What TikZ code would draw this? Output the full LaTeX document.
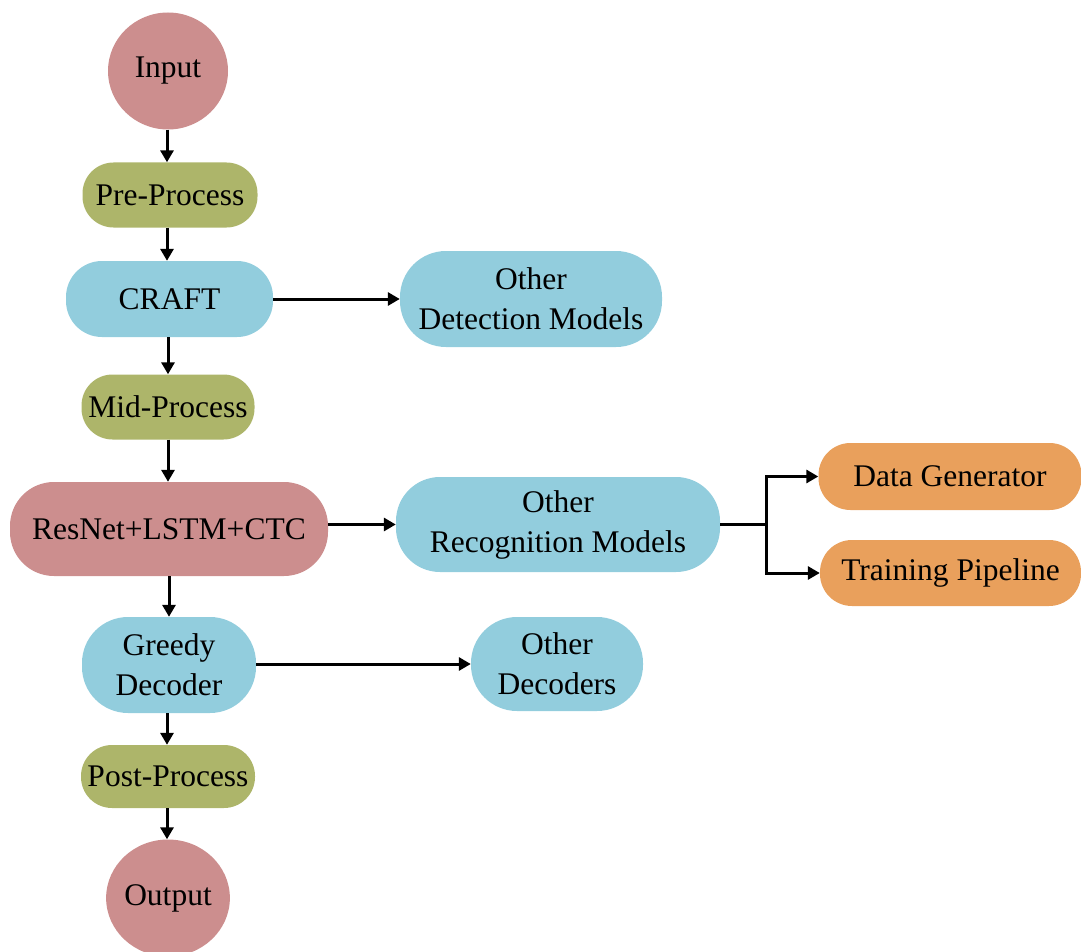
\documentclass[tikz,border=0pt]{standalone}
\usepackage{fontspec}
\setmainfont{Liberation Serif}
\usetikzlibrary{arrows.meta,shapes.geometric}
\definecolor{rose}{RGB}{204,142,142}
\definecolor{olive}{RGB}{173,181,106}
\definecolor{skyb}{RGB}{146,205,221}
\definecolor{orng}{RGB}{233,160,92}
\begin{document}
\begin{tikzpicture}[x=1pt,y=-1pt,
  lbl/.style={inner sep=0pt, align=center, font=\fontsize{31.5}{40}\selectfont},
  oval/.style={lbl, ellipse, fill=rose, minimum width=120pt, minimum height=117pt},
  pill/.style={lbl, rectangle, rounded corners=#1},
  pill/.default=31pt,
  arr/.style={line width=3pt, -{Triangle[length=12pt,width=13pt]}}
]
\useasboundingbox (0,0) rectangle (1081,952);
\begin{scope}
\clip (0,0) rectangle (1081,952);
\node[oval] (in) at (168,71) {Input};
\node[pill, fill=olive, minimum width=175pt, minimum height=65pt] (pre) at (170,195) {Pre-Process};
\node[pill=36pt, fill=skyb, minimum width=207pt, minimum height=76pt] (craft) at (169.5,299) {CRAFT};
\node[pill=46pt, fill=skyb, minimum width=262pt, minimum height=96pt] (odm) at (531,299) {Other\\Detection Models};
\node[pill, fill=olive, minimum width=173pt, minimum height=65pt] (mid) at (168,407) {Mid-Process};
\node[pill=44pt, fill=rose, minimum width=318pt, minimum height=94pt] (res) at (169,529) {ResNet+LSTM+CTC};
\node[pill=44pt, fill=skyb, minimum width=324pt, minimum height=95pt] (orm) at (558,524.5) {Other\\Recognition Models};
\node[pill=32pt, fill=orng, minimum width=263pt, minimum height=67pt] (dg) at (950,476.5) {Data Generator};
\node[pill=32pt, fill=orng, minimum width=261pt, minimum height=66pt] (tp) at (950.5,573) {Training Pipeline};
\node[pill=46pt, fill=skyb, minimum width=174pt, minimum height=96pt] (gd) at (169,665) {Greedy\\Decoder};
\node[pill=46pt, fill=skyb, minimum width=172pt, minimum height=94pt] (od) at (557,664) {Other\\Decoders};
\node[pill, fill=olive, minimum width=174pt, minimum height=63pt] (post) at (168,776.5) {Post-Process};
\node[oval] (out) at (168,898) {Output};
\end{scope}
\coordinate (br) at (766,524.5);
\draw[arr] ([xshift=-1pt]in.south) -- ([xshift=-1pt]in.south |- pre.north);
\draw[arr] ([xshift=-1pt]in.south |- pre.south) -- ([xshift=-1pt]in.south |- craft.north);
\draw[arr] (craft.east) -- (odm.west);
\draw[arr] (in.south |- craft.south) -- (in.south |- mid.north);
\draw[arr] (in.south |- mid.south) -- (in.south |- res.north);
\draw[arr] (res.east |- orm.west) -- (orm.west);
\draw[line width=3pt] (orm.east) -- (br);
\draw[arr] (br) |- (dg.west);
\draw[arr] (br) |- (tp.west);
\draw[arr] ([xshift=1pt]in.south |- res.south) -- ([xshift=1pt]in.south |- gd.north);
\draw[arr] (gd.east |- od.west) -- (od.west);
\draw[arr] ([xshift=-1pt]in.south |- gd.south) -- ([xshift=-1pt]in.south |- post.north);
\draw[arr] ([xshift=-1pt]in.south |- post.south) -- ([xshift=-1pt]in.south |- out.north);
\end{tikzpicture}
\end{document}
